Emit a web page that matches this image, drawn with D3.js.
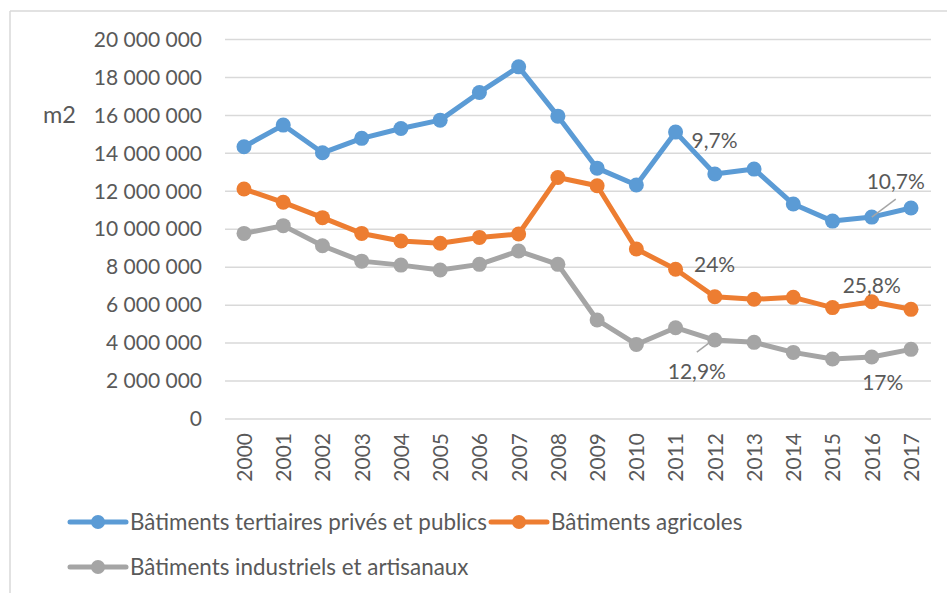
<!DOCTYPE html>
<html><head><meta charset="utf-8">
<script src="https://cdn.jsdelivr.net/npm/d3@7/dist/d3.min.js"></script>
<style>
html,body{margin:0;padding:0;background:#fff;}
text{font-family:Lato, "Noto Sans", sans-serif;fill:#595959;}
</style></head>
<body>
<svg id="c" width="947" height="593"></svg>
<script>
const years = ["2000","2001","2002","2003","2004","2005","2006","2007","2008","2009","2010","2011","2012","2013","2014","2015","2016","2017"];
const tertiaires = [14350000,15490000,14030000,14790000,15310000,15750000,17210000,18560000,15960000,13220000,12330000,15120000,12910000,13170000,11330000,10430000,10640000,11120000];
const agricoles = [12120000,11420000,10610000,9780000,9380000,9260000,9570000,9750000,12730000,12290000,8960000,7890000,6440000,6310000,6410000,5870000,6180000,5780000];
const industriels = [9780000,10190000,9130000,8320000,8110000,7850000,8150000,8850000,8150000,5220000,3930000,4810000,4160000,4040000,3510000,3160000,3270000,3670000];
const seriesNames = ["Bâtiments tertiaires privés et publics","Bâtiments agricoles","Bâtiments industriels et artisanaux"];
const seriesColors = ["#5b9bd5","#ed7d31","#a5a5a5"];
const yTicks = [0,2000000,4000000,6000000,8000000,10000000,12000000,14000000,16000000,18000000,20000000];
const annotations = [
  {text:"9,7%", year:"2011", series:0, dx:39, dy:9},
  {text:"10,7%", year:"2016", series:0, dx:24, dy:-35, leader:true},
  {text:"24%", year:"2011", series:1, dx:39, dy:-5},
  {text:"25,8%", year:"2016", series:1, dx:0, dy:-16},
  {text:"12,9%", year:"2012", series:2, dx:-18, dy:32, leader:true},
  {text:"17%", year:"2016", series:2, dx:11, dy:26}
];
const allSeries = [tertiaires, agricoles, industriels];

const svg = d3.select("#c");
// frame
svg.append("line").attr("x1",10).attr("x2",947).attr("y1",11).attr("y2",11).attr("stroke","#d9d9d9").attr("stroke-width",1.5);
svg.append("line").attr("x1",10).attr("x2",10).attr("y1",11).attr("y2",593).attr("stroke","#d9d9d9").attr("stroke-width",1.5);

const x = d3.scalePoint().domain(years).range([244,911]);
const y = d3.scaleLinear().domain([0,20000000]).range([419,39.5]);
const fmt = v => d3.format(",")(v).replace(/,/g," ");

// gridlines
svg.append("g").selectAll("line").data(yTicks).join("line")
  .attr("x1",225).attr("x2",931).attr("y1",d=>y(d)).attr("y2",d=>y(d))
  .attr("stroke","#d9d9d9").attr("stroke-width",1.5);

// y axis labels
const yAxis = d3.axisLeft(y).tickValues(yTicks).tickFormat(fmt).tickSize(0).tickPadding(0);
const gy = svg.append("g").attr("transform","translate(202,0)").call(yAxis);
gy.select(".domain").remove();
gy.selectAll("text").style("font-size","21px").attr("fill","#595959").attr("font-family","Lato");

// x axis labels
const xAxis = d3.axisBottom(x).tickSize(0).tickPadding(0);
const gx = svg.append("g").attr("transform","translate(0,433)").call(xAxis);
gx.select(".domain").remove();
gx.selectAll("text").style("font-size","21px").attr("fill","#595959").attr("font-family","Lato")
  .attr("transform","rotate(-90)").attr("text-anchor","end").attr("x",0).attr("y",0).attr("dy","0.35em");

// m2 label
svg.append("text").attr("x",43).attr("y",115).attr("dy","0.35em").style("font-size","23.5px").text("m2");

// series
const line = d3.line().x((d,i)=>x(years[i])).y(d=>y(d));
allSeries.forEach((s,k)=>{
  const g = svg.append("g");
  g.append("path").datum(s).attr("d",line).attr("fill","none").attr("stroke",seriesColors[k])
   .attr("stroke-width",5).attr("stroke-linejoin","round").attr("stroke-linecap","round");
  g.selectAll("circle").data(s).join("circle").attr("cx",(d,i)=>x(years[i])).attr("cy",d=>y(d))
   .attr("r",7.5).attr("fill",seriesColors[k]);
});

// annotations
annotations.forEach(a=>{
  const i = years.indexOf(a.year);
  const px = x(a.year), py = y(allSeries[a.series][i]);
  const tx = px + a.dx, ty = py + a.dy;
  if(a.leader){
    if(a.series===0) svg.append("line").attr("x1",px).attr("y1",py).attr("x2",px+24).attr("y2",py-18).attr("stroke","#a6a6a6").attr("stroke-width",1.5);
    else svg.append("line").attr("x1",px-2).attr("y1",py).attr("x2",px-18).attr("y2",py+12).attr("stroke","#a6a6a6").attr("stroke-width",1.5);
  }
  svg.append("text").attr("x",tx).attr("y",ty).attr("text-anchor","middle").attr("dy","0.35em")
    .style("font-size","21px").text(a.text);
});

// legend
const legendPos = [{x:70,y:522},{x:491,y:522},{x:70,y:567}];
seriesNames.forEach((n,k)=>{
  const p = legendPos[k];
  const g = svg.append("g");
  g.append("line").attr("x1",p.x).attr("x2",p.x+56).attr("y1",p.y).attr("y2",p.y).attr("stroke",seriesColors[k]).attr("stroke-width",5).attr("stroke-linecap","round");
  g.append("circle").attr("cx",p.x+28).attr("cy",p.y).attr("r",7).attr("fill",seriesColors[k]);
  g.append("text").attr("x",p.x+60).attr("y",p.y).attr("dy","0.35em").style("font-size","22.4px").text(n);
});
</script>
</body></html>
